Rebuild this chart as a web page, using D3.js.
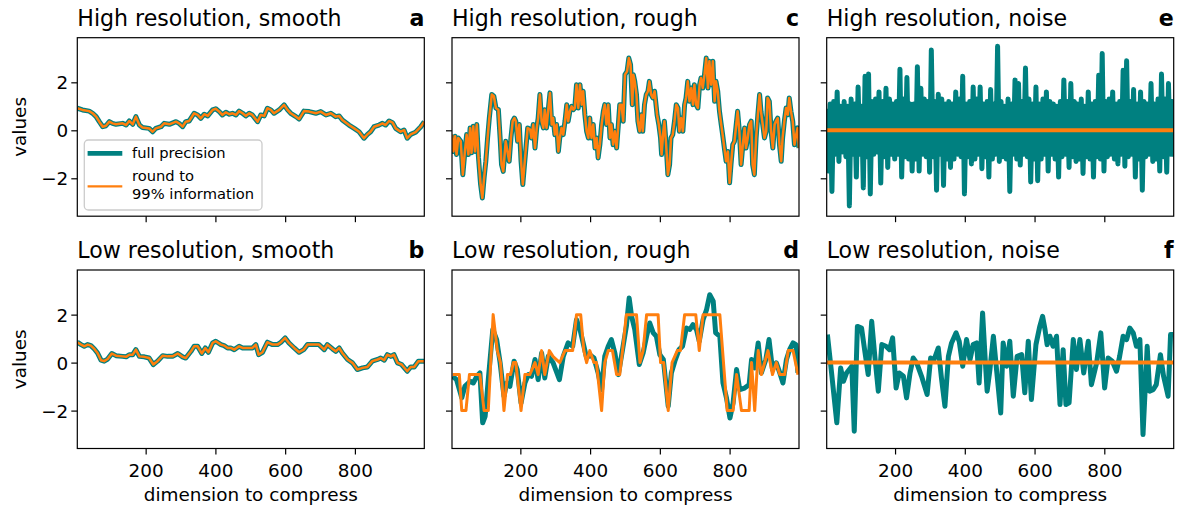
<!DOCTYPE html>
<html><head><meta charset="utf-8">
<script src="https://cdn.jsdelivr.net/npm/d3@7"></script>
<style>body{margin:0;background:#fff} svg text{font-family:"DejaVu Sans",sans-serif;fill:#000}</style>
</head><body><svg id="c" width="1183" height="508"></svg>
<script>
// ---------------- data ----------------
const xTicks = [200, 400, 600, 800];
const yTicks = [-2, 0, 2];
const xDomain = [4, 999];
const yDomain = [-3.58, 3.86];

// a: high resolution, smooth
const smoothHigh = [[4,0.92],[19,0.85],[38,0.80],[48,0.71],[58,0.57],[67,0.36],[77,0.15],[86,0.19],[96,0.36],[105,0.29],[115,0.25],[134,0.29],[144,0.22],[153,0.39],[163,0.25],[172,0.57],[182,0.22],[191,0.12],[210,0.08],[220,-0.06],[229,0.08],[244,0.15],[253,0.29],[268,0.25],[287,0.36],[296,0.29],[306,0.15],[315,0.36],[325,0.39],[339,0.71],[349,0.64],[358,0.50],[368,0.67],[378,0.60],[392,0.85],[401,0.90],[411,0.78],[420,0.64],[430,0.75],[440,0.67],[449,0.71],[459,0.64],[468,0.80],[478,0.71],[487,0.60],[497,0.71],[506,0.64],[521,0.36],[530,0.64],[540,0.60],[549,0.92],[559,0.85],[568,0.71],[583,0.85],[597,1.06],[607,0.85],[616,0.71],[631,0.57],[640,0.47],[654,0.80],[669,0.78],[688,0.71],[702,0.78],[717,0.64],[731,0.71],[745,0.57],[755,0.60],[764,0.43],[783,0.22],[798,0.08],[812,-0.06],[826,-0.33],[836,-0.17],[845,-0.06],[855,0.15],[869,0.22],[879,0.29],[888,0.22],[898,0.39],[908,0.32],[917,0.08],[931,-0.06],[941,0.01],[950,-0.33],[960,-0.17],[974,-0.08],[989,0.15],[999,0.36]];
const smoothHighRounded = smoothHigh;

// b: low resolution, smooth
const smoothLow = [[4,0.85],[15,0.75],[24,0.68],[34,0.75],[43,0.71],[53,0.57],[62,0.40],[72,0.10],[81,0.06],[91,0.15],[103,0.38],[115,0.29],[134,0.26],[144,0.24],[153,0.33],[163,0.33],[172,0.54],[182,0.26],[196,0.24],[210,0.19],[222,-0.08],[234,0.06],[249,0.29],[263,0.26],[277,0.26],[292,0.38],[306,0.24],[315,0.19],[330,0.47],[339,0.68],[349,0.68],[361,0.38],[371,0.61],[380,0.43],[392,0.82],[401,0.89],[416,0.75],[425,0.71],[435,0.61],[444,0.61],[454,0.54],[468,0.68],[478,0.61],[492,0.61],[506,0.61],[516,0.75],[524,0.33],[535,0.43],[549,0.85],[564,0.75],[578,0.75],[588,0.85],[600,1.03],[611,0.82],[626,0.61],[640,0.43],[653,0.54],[664,0.75],[678,0.75],[697,0.75],[712,0.54],[721,0.75],[736,0.57],[745,0.47],[755,0.61],[764,0.40],[779,0.13],[793,-0.01],[807,-0.29],[822,-0.22],[836,-0.18],[850,0.06],[865,0.13],[874,0.19],[884,0.10],[893,0.33],[903,0.26],[912,0.33],[922,-0.01],[934,-0.08],[950,-0.36],[960,-0.18],[970,-0.18],[982,0.06],[999,0.06]];
const smoothLowRounded = smoothLow;

// c: high resolution, rough
const roughHigh = [[4,-0.18],[8,-0.88],[13,-0.25],[17,-1.01],[22,-0.32],[29,-0.46],[35,-1.85],[41,-0.88],[46,-0.18],[51,-1.01],[56,0.10],[60,-0.94],[65,0.17],[70,-0.88],[75,0.24],[80,-1.15],[86,-2.26],[91,-2.82],[96,-1.99],[101,-1.29],[106,-0.32],[111,0.51],[118,1.49],[124,1.42],[130,0.93],[137,0.86],[142,-0.32],[146,-1.43],[151,-1.71],[158,-0.46],[163,-0.88],[168,-1.29],[173,-0.32],[178,0.38],[183,0.51],[187,0.38],[192,-0.46],[197,0.24],[202,-1.29],[207,-2.26],[211,-1.57],[216,-0.74],[221,0.10],[228,0.03],[232,-0.32],[237,0.24],[242,-0.74],[247,0.10],[251,0.51],[256,1.49],[261,0.38],[266,0.10],[270,0.86],[275,0.10],[280,0.86],[285,1.56],[290,0.24],[294,0.51],[299,-0.18],[304,0.24],[309,-0.88],[313,-0.32],[318,0.10],[323,-0.18],[328,0.38],[333,1.07],[337,0.38],[342,0.79],[347,1.00],[352,0.86],[356,0.93],[361,1.90],[366,0.93],[371,1.90],[376,1.07],[380,1.63],[385,0.65],[390,-0.04],[395,-0.32],[399,0.51],[404,-0.32],[409,0.24],[414,-0.74],[419,-0.32],[423,-1.15],[428,-0.60],[433,0.24],[438,0.79],[442,1.07],[447,0.24],[452,1.07],[457,-0.32],[461,0.24],[466,-0.60],[471,-0.04],[476,-0.74],[481,0.24],[485,1.07],[490,1.07],[495,0.38],[500,2.32],[506,2.46],[511,3.01],[516,2.74],[521,1.07],[524,2.32],[528,2.04],[533,1.49],[537,0.38],[542,-0.04],[547,0.65],[551,-0.04],[556,1.07],[561,1.49],[566,1.63],[570,2.04],[575,1.49],[580,1.35],[585,1.63],[589,1.07],[592,0.65],[597,0.24],[602,-0.32],[605,-1.01],[610,-0.04],[613,0.38],[618,-0.60],[623,-1.85],[628,-1.43],[632,-0.32],[637,-0.18],[642,0.38],[647,1.07],[652,0.93],[656,-0.04],[661,0.51],[666,-0.04],[671,1.07],[675,1.35],[680,2.04],[685,1.21],[690,1.76],[695,1.07],[699,1.90],[704,1.07],[709,0.93],[714,1.90],[718,2.18],[723,1.76],[728,2.32],[733,3.01],[738,1.76],[742,2.88],[747,1.90],[752,2.88],[757,1.21],[761,2.04],[766,1.63],[771,0.79],[776,0.24],[780,-0.18],[785,-0.74],[790,-1.29],[795,-0.88],[800,-2.19],[804,-1.43],[809,-0.60],[814,-0.46],[819,0.24],[823,0.79],[828,-0.04],[833,-1.43],[838,-0.60],[843,0.10],[847,-0.74],[852,-0.32],[857,0.24],[862,0.38],[866,-1.43],[871,-1.85],[876,-0.32],[881,0.65],[886,1.49],[890,0.79],[895,0.24],[900,-0.32],[905,-0.04],[909,1.35],[914,1.21],[919,-0.04],[924,-0.74],[929,0.24],[933,0.38],[938,0.51],[943,-0.60],[948,-1.29],[952,-0.32],[957,0.38],[962,0.93],[967,0.65],[971,1.35],[976,0.79],[981,0.38],[986,-0.60],[991,-0.18],[995,0.10],[999,-0.74]];
const roughHighRounded = roughHigh;

// d: low resolution, rough
const roughLow = [[6,-0.57],[17,-0.71],[32,-1.47],[41,-0.99],[56,-0.78],[65,-0.85],[75,-0.57],[84,-0.43],[92,-2.51],[99,-2.24],[108,-0.71],[121,1.38],[132,0.96],[142,-0.01],[153,-1.40],[161,-0.85],[170,-0.99],[182,0.06],[191,-0.29],[202,-1.68],[213,-0.85],[223,-0.50],[232,-0.57],[242,0.13],[251,-0.71],[261,0.40],[270,-0.64],[280,0.26],[294,-0.01],[312,-0.71],[323,0.26],[337,0.82],[350,0.68],[361,1.79],[371,1.38],[380,0.82],[390,0.19],[399,0.33],[411,0.19],[423,-0.43],[433,-1.13],[442,0.26],[452,0.68],[461,0.96],[471,0.40],[481,-0.50],[493,0.54],[504,1.51],[512,2.69],[519,1.93],[528,1.38],[541,-0.08],[552,0.40],[562,1.10],[571,1.65],[581,1.24],[590,1.10],[600,0.33],[610,0.13],[624,-1.82],[633,-0.43],[643,0.06],[655,0.54],[665,0.68],[676,1.44],[686,1.38],[695,1.58],[705,1.38],[713,0.89],[724,1.79],[734,2.21],[743,2.83],[753,2.56],[760,1.24],[772,1.10],[781,-0.85],[791,-1.47],[801,-2.31],[810,-1.68],[820,-0.29],[829,-1.13],[843,-1.06],[856,-0.92],[863,0.13],[872,-0.22],[882,0.82],[891,-0.43],[904,0.13],[913,0.96],[923,-0.29],[934,-0.01],[944,-0.43],[953,-0.85],[963,0.13],[972,0.54],[982,0.82],[990,0.75],[996,-0.43]];
const roughLowRounded = [[6,-0.5],[25,-0.5],[32,-2],[44,-2],[54,-0.5],[84,-0.5],[96,-2],[108,-2],[122,2],[134,0.5],[143,0],[153,-2],[163,-0.5],[172,-0.5],[180,0],[187,0],[202,-2],[213,-0.5],[227,-0.5],[242,0],[251,-0.5],[261,0.5],[270,-0.5],[283,0.5],[294,0.25],[313,0],[328,0.5],[350,0.5],[361,2],[373,2],[382,0.5],[390,0],[399,0.5],[411,0],[418,0],[433,-2],[442,0],[452,0.5],[464,0.5],[476,-0.5],[485,-0.5],[493,0.5],[504,2],[533,2],[543,0],[552,0.5],[562,2],[595,2],[602,0],[611,0],[624,-2],[635,0],[650,0.5],[659,0.5],[671,2],[703,2],[713,0.5],[724,2],[772,2],[793,-2],[810,-2],[820,-0.5],[834,-2],[856,-2],[863,0],[872,-2],[882,0.5],[891,-0.5],[910,0.5],[923,-0.5],[934,0],[944,-0.5],[958,-0.5],[968,0.5],[982,0.5],[996,-0.5]];

// e: high resolution, noise (one value every 5 positions starting at 4)
const noiseHighStart = 4, noiseHighStep = 5;
const noiseHigh = [
 0.9,-1.7,1.1,-2.55,1.2,-1.0,1.6,-1.3,1.0,-0.9,
 1.2,-1.1,1.0,-3.15,1.3,-1.0,1.1,-1.95,1.8,-1.0,
 1.0,-2.4,2.25,-1.1,2.35,-2.65,1.2,-1.0,1.3,-0.9,
 1.6,-2.2,1.2,-1.1,1.75,-1.55,1.3,-1.0,1.1,-1.2,
 1.2,-1.0,2.55,-1.95,1.3,-1.1,2.2,-1.2,1.1,-1.7,
 1.1,-1.2,2.65,-1.7,1.75,-1.0,1.3,-1.1,1.2,-1.75,
 3.35,-1.1,1.2,-2.5,1.5,-1.0,1.3,-2.3,1.1,-1.2,
 1.2,-1.55,1.1,-1.2,1.6,-1.0,1.3,-1.1,2.25,-2.65,
 1.1,-1.1,1.2,-1.4,1.8,-1.2,1.3,-1.0,1.8,-1.6,
 1.1,-1.1,1.2,-1.95,1.7,-1.2,1.1,-1.0,3.5,-1.3,
 1.2,-1.1,1.0,-1.2,1.3,-2.55,1.1,-1.0,2.1,-1.2,
 1.95,-1.45,1.2,-1.0,2.6,-1.1,1.3,-2.15,1.1,-1.2,
 1.8,-2.1,1.1,-1.2,1.3,-1.0,1.6,-1.7,1.2,-1.0,
 1.1,-1.2,1.0,-1.95,1.2,-1.1,2.1,-1.0,1.2,-1.55,
 1.95,-1.1,1.2,-1.3,1.1,-1.2,1.3,-1.8,1.0,-1.1,
 1.6,-1.2,1.1,-1.95,1.2,-1.1,2.3,-1.2,3.2,-1.7,
 1.2,-1.1,1.3,-1.0,1.6,-1.2,1.1,-1.4,1.2,-1.0,
 2.5,-1.5,2.9,-1.1,1.2,-1.0,1.7,-1.95,1.1,-1.2,
 1.6,-2.5,1.2,-1.1,1.1,-1.0,1.95,-1.3,1.1,-1.2,
 1.3,-1.7,2.35,-1.1,1.3,-1.75,1.95,-1.0,1.2,-1.1];
const noiseHighRounded = [[4,0],[999,0]];

// f: low resolution, noise
const noiseLow = [[6,1.17],[18,-0.43],[33,-2.51],[44,-0.22],[52,-0.78],[61,-0.43],[76,-0.15],[83,-2.86],[92,1.51],[104,1.44],[114,0.40],[123,-0.50],[133,1.72],[142,0.26],[152,-1.19],[162,0.75],[174,0.68],[184,0.54],[193,1.03],[203,-1.06],[212,-0.43],[224,-0.57],[233,-1.47],[243,-0.43],[252,0.19],[262,-0.01],[276,-0.57],[292,-1.33],[302,0.19],[312,0.13],[324,0.61],[333,-0.64],[343,-1.82],[353,0.26],[362,0.82],[375,1.24],[384,0.89],[394,-0.15],[405,0.96],[415,0.13],[424,0.75],[434,0.82],[441,-0.85],[451,2.07],[458,0.26],[464,-1.19],[472,-0.29],[482,1.10],[491,-0.29],[503,-2.10],[510,0.82],[520,-0.15],[529,0.89],[539,-1.40],[550,0.26],[563,0.33],[572,-1.26],[582,0.89],[591,-1.54],[604,0.75],[615,1.51],[623,1.93],[630,1.38],[636,0.75],[644,1.10],[653,0.68],[663,1.10],[673,-1.75],[682,0.54],[690,-1.75],[699,-1.68],[711,0.96],[720,-0.29],[730,0.96],[741,-0.43],[754,0.89],[763,-0.92],[778,-0.01],[790,1.24],[801,-1.06],[811,0.19],[823,0.06],[835,-0.36],[844,0.26],[854,1.10],[864,0.96],[873,1.44],[883,1.24],[892,0.68],[902,0.96],[911,-3.00],[923,0.68],[930,-1.19],[940,-1.13],[949,-0.92],[961,0.33],[970,-0.57],[983,-1.40],[990,1.17],[997,1.17]];
const noiseLowRounded = [[4,0],[999,0]];

const titles = ["High resolution, smooth","Low resolution, smooth","High resolution, rough","Low resolution, rough","High resolution, noise","Low resolution, noise"];
const letters = ["a","b","c","d","e","f"];
const legendLabels = ["full precision", ["round to","99% information"]];

// ---------------- layout & style ----------------
const TEAL = "#008080", ORANGE = "#ff7f0e";
const colX = [77.3, 452, 826.7], rowY = [37.7, 270];
const PW = 347, PH = 178.5;
const panels = [
  {c:0,r:0,full:smoothHigh,round:smoothHighRounded,ow:2.5},
  {c:0,r:1,full:smoothLow,round:smoothLowRounded,ow:2.5},
  {c:1,r:0,full:roughHigh,round:roughHighRounded,ow:2.5},
  {c:1,r:1,full:roughLow,round:roughLowRounded,ow:3},
  {c:2,r:0,full:noiseHigh.map((v,i)=>[noiseHighStart+i*noiseHighStep,v]),round:noiseHighRounded,ow:4},
  {c:2,r:1,full:noiseLow,round:noiseLowRounded,ow:4}
];

const svg = d3.select("#c");
const x = d3.scaleLinear().domain(xDomain).range([0, PW]);
const y = d3.scaleLinear().domain(yDomain).range([PH, 0]);
const line = d3.line().x(d=>x(d[0])).y(d=>y(d[1]));

panels.forEach((p,i)=>{
  const g = svg.append("g").attr("transform",`translate(${colX[p.c]},${rowY[p.r]})`);
  const cid = "clip"+i;
  g.append("clipPath").attr("id",cid).append("rect").attr("width",PW).attr("height",PH);
  const plot = g.append("g").attr("clip-path",`url(#${cid})`);
  plot.append("path").attr("d",line(p.full)).attr("fill","none").attr("stroke",TEAL)
    .attr("stroke-width",5).attr("stroke-linejoin","round");
  plot.append("path").attr("d",line(p.round)).attr("fill","none").attr("stroke",ORANGE)
    .attr("stroke-width",p.ow).attr("stroke-linejoin","round");

  const ya = d3.axisLeft(y).tickValues(yTicks).tickSize(6).tickPadding(3);
  if (p.c!==0) ya.tickFormat("");
  const yg = g.append("g").call(ya);
  const xa = d3.axisBottom(x).tickValues(xTicks).tickSize(6).tickPadding(9);
  if (p.r!==1) xa.tickFormat("");
  const xg = g.append("g").attr("transform",`translate(0,${PH})`).call(xa);
  [yg,xg].forEach(a=>{
    a.select(".domain").remove();
    a.selectAll("line").attr("stroke","#000").attr("stroke-width",1.2);
    a.selectAll("text").attr("font-size",18.4).attr("font-family","DejaVu Sans").attr("fill","#000");
  });
  yg.selectAll("text").attr("dy","0.36em");

  g.append("rect").attr("width",PW).attr("height",PH).attr("fill","none")
    .attr("stroke","#000").attr("stroke-width",1.2);

  g.append("text").attr("x",0).attr("y",-11.7).attr("font-size",22.1).text(titles[i]);
  g.append("text").attr("x",PW).attr("y",-11.7).attr("font-size",22.1).attr("font-weight","bold")
    .attr("text-anchor","end").text(letters[i]);

  if (p.c===0) {
    g.append("text").attr("transform",`translate(${25.5-colX[0]},${PH/2}) rotate(-90)`)
      .attr("text-anchor","middle").attr("font-size",18.4).text("values");
  }
  if (p.r===1) {
    g.append("text").attr("x",PW/2).attr("y",501-rowY[1]).attr("text-anchor","middle")
      .attr("font-size",18.4).text("dimension to compress");
  }
  if (i===0) {
    const L = g.append("g").attr("transform",`translate(${84.3-colX[0]},${140-rowY[0]})`);
    L.append("rect").attr("width",177.7).attr("height",70).attr("rx",4)
      .attr("fill","#fff").attr("fill-opacity",0.8).attr("stroke","#cccccc").attr("stroke-width",1.3);
    L.append("line").attr("x1",3.3).attr("x2",38).attr("y1",13.3).attr("y2",13.3)
      .attr("stroke",TEAL).attr("stroke-width",4.8);
    L.append("line").attr("x1",3.3).attr("x2",38).attr("y1",46.3).attr("y2",46.3)
      .attr("stroke",ORANGE).attr("stroke-width",2.3);
    L.append("text").attr("x",47.7).attr("y",18).attr("font-size",14.7).text(legendLabels[0]);
    L.append("text").attr("x",47.7).attr("y",41).attr("font-size",14.7).text(legendLabels[1][0]);
    L.append("text").attr("x",47.7).attr("y",58.5).attr("font-size",14.7).text(legendLabels[1][1]);
  }
});
</script></body></html>
